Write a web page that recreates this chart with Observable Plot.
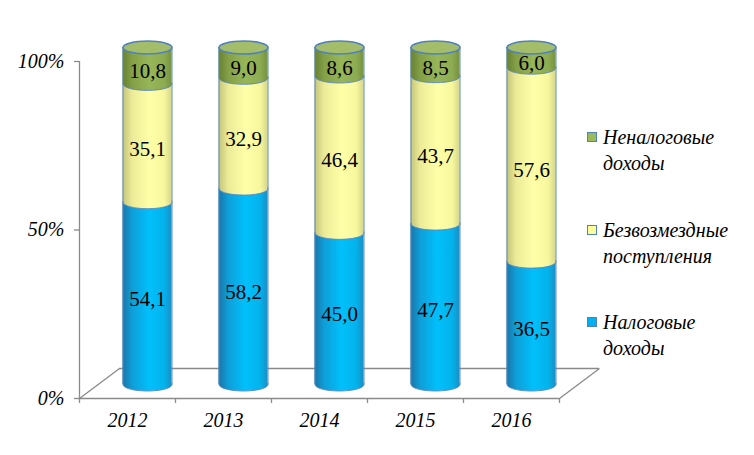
<!DOCTYPE html>
<html><head><meta charset="utf-8">
<script src="https://cdn.jsdelivr.net/npm/d3@7"></script>
<script src="https://cdn.jsdelivr.net/npm/@observablehq/plot@0.6"></script>
<style>
body{margin:0;background:#fff}
#wrap{position:relative;width:754px;height:455px;overflow:hidden}
#legend{position:absolute;left:587px;top:0;font-family:"Liberation Serif","Tinos","Times New Roman","DejaVu Serif",serif;font-style:italic;font-size:20px;line-height:26px;color:#000}
.item{position:absolute;left:0;white-space:nowrap}
.sw{position:absolute;left:0;top:8px;width:8px;height:8px;border:1.5px solid #4f81bd}
.lab{position:absolute;left:16px;top:0}
</style></head>
<body><div id="wrap"><div id="legend"></div></div>
<script>
// ---- data ----
const years = ["2012", "2013", "2014", "2015", "2016"];
const taxIncome = [54.1, 58.2, 45.0, 47.7, 36.5];      // Налоговые доходы
const grants = [35.1, 32.9, 46.4, 43.7, 57.6];         // Безвозмездные поступления
const nonTaxIncome = [10.8, 9.0, 8.6, 8.5, 6.0];       // Неналоговые доходы
const seriesNames = [["Налоговые", "доходы"], ["Безвозмездные", "поступления"], ["Неналоговые", "доходы"]];
const yTicks = [0, 50, 100];

// ---- styles ----
const gradIds = ["gBlue", "gYellow", "gGreen"];
const swatch = ["#00b0f0", "#ffff99", "#9bbb59"];
const gray = "#8a8a8a";
const outline = "#5b87c2";
const DX = 20, DY = -14, RX = 24.5, RY = 6.5;
const serif = "Liberation Serif, Tinos, Times New Roman, DejaVu Serif, serif";

const values = [taxIncome, grants, nonTaxIncome];
const rows = [];
years.forEach((yr, i) => {
  const tot = values.reduce((s, arr) => s + arr[i], 0);
  let acc = 0;
  values.forEach((arr, k) => {
    const v = arr[i];
    const y1 = acc / tot * 100; acc += v;
    const y2 = acc / tot * 100;
    rows.push({i, year: yr, s: k, y1, y2, v});
  });
});
const cols = years.map((yr, i) => ({i, year: yr}));

const k4 = 0.5523;
const ellipse = {draw(ctx) {
  ctx.moveTo(-RX, 0);
  ctx.bezierCurveTo(-RX, RY * k4, -RX * k4, RY, 0, RY);
  ctx.bezierCurveTo(RX * k4, RY, RX, RY * k4, RX, 0);
  ctx.bezierCurveTo(RX, -RY * k4, RX * k4, -RY, 0, -RY);
  ctx.bezierCurveTo(-RX * k4, -RY, -RX, -RY * k4, -RX, 0);
  ctx.closePath();
}};
const diag = {draw(ctx) { ctx.moveTo(0, 0); ctx.lineTo(2 * DX, 2 * DY - 2); }};

const marks = [
  Plot.ruleY([0], {stroke: gray, strokeWidth: 1.3}),
  Plot.ruleY([0], {stroke: gray, strokeWidth: 1.3, dx: 2 * DX, dy: 2 * DY - 2}),
  Plot.dot([0, years.length], {x: d => d, y: 0, symbol: diag, fill: "none", stroke: gray, strokeWidth: 1.3}),
  Plot.ruleX([0], {y1: 0, y2: 100, stroke: gray, strokeWidth: 1.3}),
  Plot.axisX({ticks: d3.range(years.length + 1), tickSize: 5, tickFormat: () => "", stroke: gray, strokeWidth: 1.3}),
  Plot.text(cols, {x: d => d.i + 0.5, y: 0, dy: 22, text: d => d.year, fontSize: 20, fontStyle: "italic", fontFamily: serif, fill: "#000"}),
  Plot.axisY({ticks: yTicks, tickSize: 5, tickPadding: 10, tickFormat: d => d + "%", stroke: gray, strokeWidth: 1.3, fontSize: 20, fontStyle: "italic", fontFamily: serif, fill: "#000", label: null})
];
values.forEach((_, k) => {
  const data = rows.filter(d => d.s === k);
  marks.push(Plot.dot(data, {x: d => d.i + 0.5, y: "y1", dx: DX, dy: DY, symbol: ellipse, fill: `url(#${gradIds[k]})`, stroke: outline, strokeWidth: 0.9}));
  marks.push(Plot.rect(data, {x1: d => d.i, x2: d => d.i + 1, y1: "y1", y2: "y2", insetLeft: 48 - RX, insetRight: 48 - RX, dx: DX, dy: DY, fill: `url(#${gradIds[k]})`}));
});
marks.push(
  Plot.dot(cols, {x: d => d.i + 0.5, y: 100, dx: DX, dy: DY, symbol: ellipse, fill: "#a3bd6a", stroke: "#4f81bd", strokeWidth: 1.6}),
  Plot.ruleX(cols, {x: d => d.i + 0.5, y1: 0, y2: 100, dx: DX - RX, dy: DY, stroke: outline, strokeWidth: 1}),
  Plot.ruleX(cols, {x: d => d.i + 0.5, y1: 0, y2: 100, dx: DX + RX, dy: DY, stroke: outline, strokeWidth: 1}),
  Plot.text(rows, {x: d => d.i + 0.5, y: d => (d.y1 + d.y2) / 2, dx: DX, dy: DY + 6, text: d => d.v.toFixed(1).replace(".", ","), fontSize: 21, fontFamily: serif, fill: "#000"})
);

const svg = Plot.plot({
  width: 754, height: 455,
  marginLeft: 79, marginRight: 195, marginTop: 61, marginBottom: 57,
  x: {type: "linear", domain: [0, years.length]},
  y: {domain: [0, 100]},
  style: {fontFamily: serif, fontSize: "20px", background: "#fff", overflow: "visible", color: "#000"},
  marks
});
d3.select(svg).insert("defs", ":first-child").html(`
<linearGradient id="gBlue" x1="0" x2="1" y1="0" y2="0">
  <stop offset="0" stop-color="#1875a8"/><stop offset="0.2" stop-color="#0f9fd9"/>
  <stop offset="0.55" stop-color="#00c0fb"/><stop offset="0.85" stop-color="#04b2ec"/><stop offset="1" stop-color="#1a8ec4"/>
</linearGradient>
<linearGradient id="gYellow" x1="0" x2="1" y1="0" y2="0">
  <stop offset="0" stop-color="#c4c47a"/><stop offset="0.2" stop-color="#ecec98"/>
  <stop offset="0.55" stop-color="#ffffa8"/><stop offset="0.85" stop-color="#f7f79e"/><stop offset="1" stop-color="#d6d68a"/>
</linearGradient>
<linearGradient id="gGreen" x1="0" x2="1" y1="0" y2="0">
  <stop offset="0" stop-color="#67812f"/><stop offset="0.2" stop-color="#84a048"/>
  <stop offset="0.55" stop-color="#97b658"/><stop offset="0.85" stop-color="#8dab52"/><stop offset="1" stop-color="#76923e"/>
</linearGradient>`);
document.getElementById("wrap").prepend(svg);

// legend (top to bottom: reverse stacking order)
const legendTops = [309, 217, 124];
const legend = document.getElementById("legend");
seriesNames.forEach((name, k) => {
  const it = document.createElement("div");
  it.className = "item";
  it.style.top = legendTops[k] + "px";
  it.innerHTML = `<div class="sw" style="background:${swatch[k]}"></div><div class="lab">${name[0]}<br>${name[1]}</div>`;
  legend.appendChild(it);
});
</script>
</body></html>
